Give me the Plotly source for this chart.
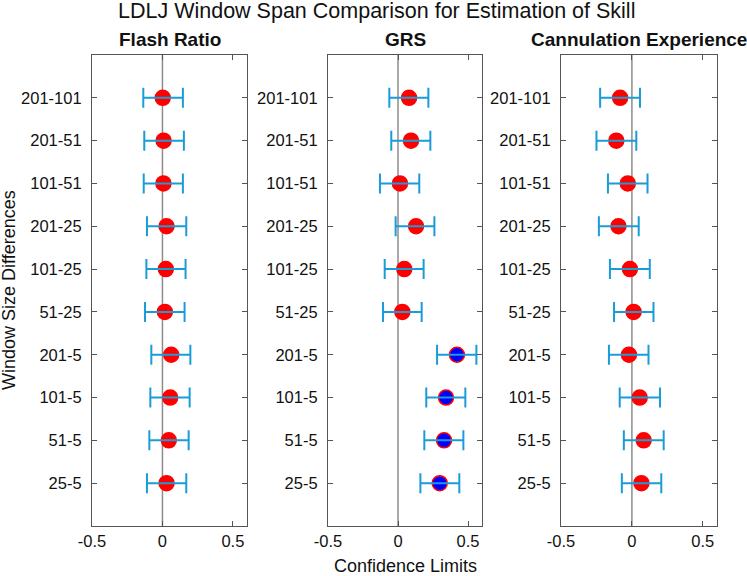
import plotly.graph_objects as go

# window size pairs, top to bottom as shown
windows = ["201-101", "201-51", "101-51", "201-25", "101-25",
           "51-25", "201-5", "101-5", "51-5", "25-5"]
panels = ["Flash Ratio", "GRS", "Cannulation Experience"]

# Flash Ratio: estimate and confidence limits
flash_est = [0.002, 0.008, 0.007, 0.029, 0.024, 0.017, 0.062, 0.055, 0.045, 0.029]
flash_lo = [-0.136, -0.129, -0.133, -0.110, -0.114, -0.124, -0.079, -0.086, -0.093, -0.110]
flash_hi = [0.145, 0.152, 0.145, 0.169, 0.164, 0.157, 0.198, 0.193, 0.186, 0.169]

# GRS
grs_est = [0.079, 0.093, 0.014, 0.129, 0.045, 0.031, 0.421, 0.343, 0.329, 0.298]
grs_lo = [-0.062, -0.048, -0.129, -0.017, -0.095, -0.107, 0.279, 0.202, 0.188, 0.160]
grs_hi = [0.217, 0.231, 0.152, 0.260, 0.183, 0.169, 0.560, 0.481, 0.467, 0.438]
grs_sig = [False, False, False, False, False, False, True, True, True, True]

# Cannulation Experience
cann_est = [-0.083, -0.110, -0.029, -0.095, -0.014, 0.012, -0.021, 0.055, 0.083, 0.067]
cann_lo = [-0.224, -0.250, -0.169, -0.233, -0.155, -0.126, -0.162, -0.086, -0.057, -0.071]
cann_hi = [0.057, 0.031, 0.110, 0.048, 0.126, 0.152, 0.117, 0.198, 0.224, 0.207]

series = [
    (flash_est, flash_lo, flash_hi, [False] * len(windows)),
    (grs_est, grs_lo, grs_hi, grs_sig),
    (cann_est, cann_lo, cann_hi, [False] * len(windows)),
]

W, H = 747, 576
x_domains = [(92, 247), (328, 482), (561, 717)]
y_top, y_bot = 55, 526

fig = go.Figure()
font = "Liberation Sans, Arial, sans-serif"
bar_col = "#1a9cd8"
frame_col = "#555555"


def label(text, x, y, size, angle=0):
    # centred text placed in pixel coords of the figure
    fig.add_annotation(text=text, xref="paper", yref="paper", x=x / W, y=1 - y / H,
                       xanchor="center", yanchor="middle", showarrow=False,
                       textangle=angle, font=dict(size=size, color="#111111", family=font))


for i, (est, lo, hi, sig) in enumerate(series):
    n = "" if i == 0 else str(i + 1)
    xa, ya = "x" + n, "y" + n
    fill = ["#0000ff" if s else "#ff0000" for s in sig]
    # dots first, then the bars over them (like matlab's errorbar)
    fig.add_trace(go.Scatter(
        x=est, y=windows, mode="markers", xaxis=xa, yaxis=ya,
        marker=dict(size=15, color=fill, line=dict(color="#ff0000", width=1.5)),
        showlegend=False, hoverinfo="skip"))
    fig.add_trace(go.Scatter(
        x=est, y=windows, mode="markers", xaxis=xa, yaxis=ya,
        marker=dict(size=2, opacity=0),
        error_x=dict(type="data", symmetric=False,
                     array=[h - e for h, e in zip(hi, est)],
                     arrayminus=[e - l for e, l in zip(est, lo)],
                     color=bar_col, thickness=2, width=10),
        showlegend=False))

    d0, d1 = x_domains[i]
    axis_common = dict(showline=True, linecolor=frame_col, linewidth=1.2,
                       mirror="allticks", ticks="inside", ticklen=5,
                       tickcolor=frame_col, showgrid=False, automargin=False,
                       tickfont=dict(size=16.5, color="#111111", family=font))
    fig.update_layout({
        "xaxis" + n: dict(domain=[d0 / W, d1 / W], range=[-0.5, 0.6],
                          tickvals=[-0.5, 0, 0.5], ticktext=["-0.5", "0", "0.5"],
                          zeroline=False, anchor=ya, **axis_common),
        "yaxis" + n: dict(domain=[1 - y_bot / H, 1 - y_top / H], type="category",
                          categoryorder="array", categoryarray=windows[::-1],
                          range=[-1, len(windows)], anchor=xa,
                          ticklabelstandoff=6, **axis_common),
    })
    # vertical reference line at zero
    fig.add_shape(type="line", xref=xa, yref=ya + " domain", x0=0, x1=0, y0=0, y1=1,
                  line=dict(color="#8c8c8c", width=1.5), layer="below")
    label("<b>" + panels[i] + "</b>", (d0 + d1) / 2, 40, 19)

label("LDLJ Window Span Comparison for Estimation of Skill", 377, 11, 21.5)
label("Confidence Limits", 405, 566, 18)
label("Window Size Differences", 9, 290, 18, angle=-90)

fig.update_layout(width=W, height=H, margin=dict(l=0, r=0, t=0, b=0),
                  plot_bgcolor="white", paper_bgcolor="white")

fig.write_html("out.html", config={"displayModeBar": False},
               post_script="document.body.style.margin='0';")
